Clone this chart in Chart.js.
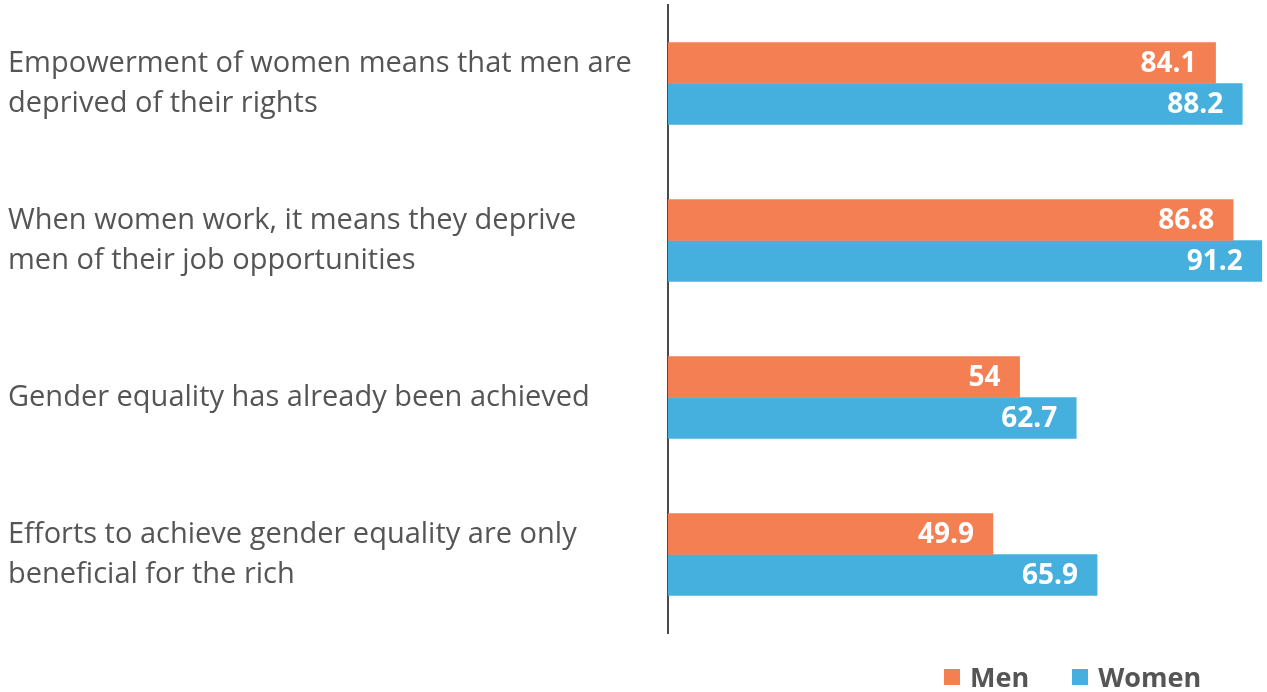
<!DOCTYPE html>
<html lang="en">
  <head>
    <meta charset="UTF-8" />
    <title>Gender equality attitudes</title>
    <script src="https://cdn.jsdelivr.net/npm/chart.js@4"></script>
    <style>
      html, body { margin: 0; padding: 0; background: #fff; }
      .wrap { position: relative; width: 1267px; height: 692px; }
      .legend {
        position: absolute; top: 658px; left: 944px;
        display: flex; gap: 43px;
        font-family: "Open Sans", sans-serif; font-weight: 700; font-size: 27px; color: #555;
      }
      .legend span { display: flex; align-items: center; }
      .legend i { display: inline-block; width: 16px; height: 16px; margin-right: 10px; }
    </style>
  </head>
  <body>
    <div class="wrap">
      <canvas id="chart" width="1267" height="692"></canvas>
      <div class="legend" id="legend"></div>
    </div>

    <script>
      const categories = [
        ["Empowerment of women means that men are", "deprived of their rights"],
        ["When women work, it means they deprive", "men of their job opportunities"],
        ["Gender equality has already been achieved"],
        ["Efforts to achieve gender equality are only", "beneficial for the rich"],
      ];
      const menValues = [84.1, 86.8, 54, 49.9];
      const womenValues = [88.2, 91.2, 62.7, 65.9];
      const seriesNames = ["Men", "Women"];
      const seriesColors = ["#F47F52", "#45B0DE"];

      // value labels drawn inside the end of each bar
      const barValues = {
        id: "barValues",
        afterDatasetsDraw(chart) {
          const ctx = chart.ctx;
          ctx.save();
          ctx.fillStyle = "#fff";
          ctx.font = "bold 28px 'Open Sans', sans-serif";
          ctx.textAlign = "right";
          ctx.textBaseline = "middle";
          chart.data.datasets.forEach((ds, i) => {
            chart.getDatasetMeta(i).data.forEach((bar, j) => {
              ctx.fillText(String(ds.data[j]), bar.x - 19, bar.y + 1);
            });
          });
          ctx.restore();
        },
      };

      new Chart(document.getElementById("chart"), {
        type: "bar",
        data: {
          labels: categories,
          datasets: [
            { label: seriesNames[0], data: menValues, backgroundColor: seriesColors[0], barThickness: 41 },
            { label: seriesNames[1], data: womenValues, backgroundColor: seriesColors[1], barThickness: 41 },
          ],
        },
        options: {
          indexAxis: "y",
          responsive: false,
          animation: false,
          layout: { padding: { left: 8, top: 5, bottom: 59, right: 0 } },
          plugins: { legend: { display: false }, tooltip: { enabled: false } },
          scales: {
            x: { display: false, min: 0, max: 92 },
            y: {
              grid: { display: false },
              border: { display: true, color: "#4a4a4a", width: 2 },
              ticks: {
                crossAlign: "far",
                color: "#555",
                padding: 0,
                font: { family: "'Open Sans', sans-serif", size: 29, lineHeight: 1.38 },
              },
              afterFit(scale) {
                scale.width = 660;
                scale.paddingTop = 0;
                scale.paddingBottom = 0;
              },
            },
          },
        },
        plugins: [barValues],
      });

      // html legend
      const legend = document.getElementById("legend");
      seriesNames.forEach((name, i) => {
        const item = document.createElement("span");
        item.innerHTML = `<i style="background:${seriesColors[i]}"></i>${name}`;
        legend.appendChild(item);
      });
    </script>
  </body>
</html>
